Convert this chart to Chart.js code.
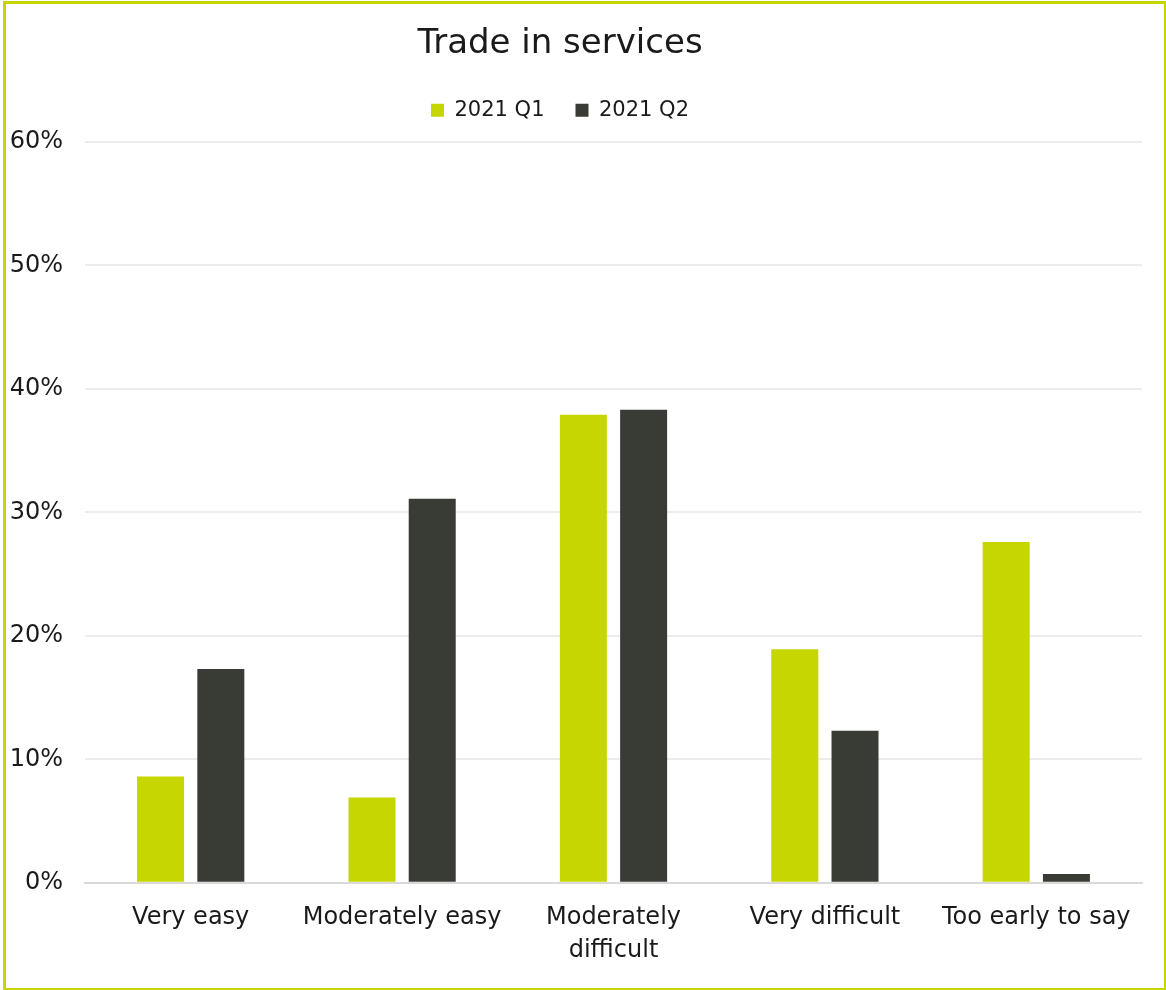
<!DOCTYPE html>
<html>
<head>
<meta charset="utf-8">
<script src="https://cdn.jsdelivr.net/npm/chart.js@4/dist/chart.umd.min.js"></script>
<style>
  html, body { margin: 0; padding: 0; background: #fff; overflow: hidden; }
  #frame {
    position: absolute; left: 3px; top: 1px;
    width: 1158px; height: 984px;
    border: 3px solid #c5d600;
    box-sizing: content-box;
  }
  #wrap { position: absolute; left: -22px; top: 0; width: 1188px; height: 990px; }
</style>
</head>
<body>
<div id="frame"></div>
<div id="wrap"><canvas id="chart" width="1188" height="990"></canvas></div>
<script>
const categories = ["Very easy", "Moderately easy", ["Moderately", "difficult"], "Very difficult", "Too early to say"];
const q1Values = [0.086, 0.069, 0.379, 0.189, 0.276];
const q2Values = [0.173, 0.311, 0.383, 0.123, 0.007];
const seriesNames = ["2021 Q1", "2021 Q2"];
const yTicks = [0, 0.1, 0.2, 0.3, 0.4, 0.5, 0.6];

const fontFamily = "'DejaVu Sans', sans-serif";
const textColor = "#1a1a1a";

// Extra room below the legend so the plot starts a little lower
const legendGap = {
  id: "legendGap",
  afterInit(chart) {
    const lg = chart.legend;
    if (!lg) return;
    const fit = lg.fit.bind(lg);
    lg.fit = function () { fit(); this.height += 11; };
  }
};

new Chart(document.getElementById("chart"), {
  type: "bar",
  data: {
    labels: categories,
    datasets: [
      { label: seriesNames[0], data: q1Values, backgroundColor: "#c5d600", barPercentage: 0.78, categoryPercentage: 0.57 },
      { label: seriesNames[1], data: q2Values, backgroundColor: "#393b35", barPercentage: 0.78, categoryPercentage: 0.57 }
    ]
  },
  plugins: [legendGap],
  options: {
    responsive: false,
    animation: false,
    layout: { padding: { left: 0, right: 24, top: 0, bottom: 13 } },
    plugins: {
      title: {
        display: true,
        text: "Trade in services",
        color: textColor,
        font: { family: fontFamily, size: 34, weight: "normal" },
        padding: { top: 24, bottom: 4 }
      },
      legend: {
        display: true,
        labels: {
          color: textColor,
          font: { family: fontFamily, size: 21 },
          boxWidth: 13, boxHeight: 13,
          padding: 31
        }
      },
      tooltip: { enabled: false }
    },
    scales: {
      x: {
        grid: { display: false },
        border: { color: "#d9d9d9", width: 2 },
        ticks: { color: textColor, font: { family: fontFamily, size: 24, lineHeight: 1.38 }, padding: 10, maxRotation: 0, autoSkip: false }
      },
      y: {
        min: 0, max: 0.6,
        afterBuildTicks: (axis) => { axis.ticks = yTicks.map(v => ({ value: v })); },
        afterFit: (axis) => { axis.width = 107; },
        grid: { color: "#ececec", lineWidth: 2, drawTicks: false },
        border: { display: false },
        ticks: {
          color: textColor,
          font: { family: fontFamily, size: 24 },
          padding: 22,
          callback: (v) => Math.round(v * 100) + "%"
        }
      }
    }
  }
});
</script>
</body>
</html>
